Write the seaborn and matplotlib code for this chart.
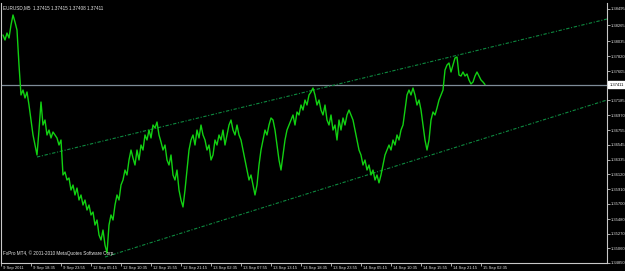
import numpy as np
import pandas as pd
import matplotlib
matplotlib.use("Agg")
import matplotlib.pyplot as plt
import matplotlib.transforms as mtransforms
import seaborn as sns

# ---------------- data ----------------
symbol_text = "EURUSD,M5  1.37415 1.37415 1.37408 1.37411"
footer_text = "FxPro MT4, \u00a9 2001-2010 MetaQuotes Software Corp."

# close prices, one sample every ~4.3 M5 bars
prices = [
    1.38122, 1.38050, 1.38150, 1.38079, 1.38265, 1.38409, 1.38308, 1.38193, 1.37691, 1.37261,
    1.37332, 1.37218, 1.37304, 1.37117, 1.36902, 1.36687, 1.36543, 1.36400, 1.36758, 1.37160,
    1.36830, 1.36902, 1.36687, 1.36758, 1.36644, 1.36730, 1.36687, 1.36644, 1.36543, 1.36615,
    1.36113, 1.36156, 1.36041, 1.36070, 1.35897, 1.35969, 1.35826, 1.35926, 1.35754, 1.35826,
    1.35682, 1.35754, 1.35610, 1.35682, 1.35539, 1.35582, 1.35395, 1.35467, 1.35252, 1.35180,
    1.35323, 1.35108, 1.34993, 1.35395, 1.35539,
    1.35467, 1.35682, 1.35826, 1.35754, 1.35969, 1.36041, 1.36184, 1.36113, 1.36328, 1.36471,
    1.36357, 1.36256, 1.36471, 1.36328, 1.36543, 1.36471, 1.36687, 1.36615, 1.36758, 1.36644,
    1.36830, 1.36787, 1.36873, 1.36687, 1.36586, 1.36471, 1.36543, 1.36328, 1.36256, 1.36400,
    1.36113, 1.36041, 1.36184, 1.35897, 1.35754, 1.35654, 1.35897, 1.36184, 1.36471, 1.36615,
    1.36687, 1.36543, 1.36758, 1.36644, 1.36830, 1.36687, 1.36615, 1.36471, 1.36543, 1.36328,
    1.36400, 1.36615, 1.36543, 1.36687, 1.36615, 1.36758, 1.36543, 1.36687, 1.36830, 1.36902,
    1.36758, 1.36687, 1.36830, 1.36687, 1.36615, 1.36471, 1.36328, 1.36184, 1.36041, 1.36113,
    1.35969, 1.35826, 1.35969, 1.36256, 1.36471, 1.36615, 1.36758, 1.36687, 1.36830, 1.36931,
    1.36902, 1.36758, 1.36543, 1.36328, 1.36184, 1.36400, 1.36615, 1.36758, 1.36830, 1.36902,
    1.36974, 1.36830, 1.37017, 1.36974, 1.37117, 1.37045, 1.37189, 1.37117, 1.37261, 1.37304,
    1.37361, 1.37261, 1.37117, 1.37189, 1.37045, 1.36974, 1.37117, 1.36902, 1.36830, 1.36974,
    1.36758, 1.36830, 1.36615, 1.36902, 1.36758, 1.36931, 1.36830, 1.36974, 1.37045, 1.36974,
    1.36902, 1.36758, 1.36615, 1.36471, 1.36400, 1.36256, 1.36328, 1.36184, 1.36256, 1.36113,
    1.36184, 1.36041, 1.36113, 1.36000, 1.36113, 1.36256, 1.36400, 1.36471, 1.36543, 1.36471,
    1.36615, 1.36543, 1.36687, 1.36615, 1.36758, 1.36830, 1.37045, 1.37261, 1.37332, 1.37261,
    1.37361, 1.37261, 1.37117, 1.37189, 1.37045, 1.36830, 1.36615, 1.36471, 1.36615, 1.36902,
    1.37017, 1.36974, 1.37074, 1.37189, 1.37261, 1.37332, 1.37619, 1.37691, 1.37720, 1.37591,
    1.37691, 1.37792, 1.37806, 1.37548, 1.37533, 1.37591, 1.37533, 1.37562, 1.37476, 1.37419,
    1.37447, 1.37533, 1.37591, 1.37533, 1.37476, 1.37447, 1.37411,
]

# trend channel anchors (sample index, price)
upper_idx = [17, 302]
upper_price = [1.36371, 1.38351]
lower_idx = [51, 302]
lower_price = [1.34936, 1.37189]

current_price = 1.37411

time_labels = ["9 Sep 2011", "9 Sep 18:35", "9 Sep 23:55", "12 Sep 05:15", "12 Sep 10:35",
               "12 Sep 15:55", "12 Sep 21:15", "13 Sep 02:35", "13 Sep 07:55", "13 Sep 13:15",
               "13 Sep 18:35", "13 Sep 23:55", "14 Sep 05:15", "14 Sep 10:35", "14 Sep 15:55",
               "14 Sep 21:15", "15 Sep 02:35"]
time_ticks = [-1, 14, 29, 44, 59, 74, 89, 104, 119, 134, 149, 164, 179, 194, 209, 224, 239]

price_ticks = [1.34850, 1.35060, 1.35270, 1.35480, 1.35700, 1.35910, 1.36120, 1.36335,
               1.36545, 1.36755, 1.36970, 1.37185, 1.37605, 1.37820, 1.38035, 1.38265, 1.38495]
price_labels = ["%.5f" % v for v in price_ticks]

# ---------------- drawing ----------------
sns.set_style("dark")
plt.rcParams["font.family"] = ["Liberation Sans", "DejaVu Sans"]

fig = plt.figure(figsize=(6.25, 2.71), dpi=100)
fig.patch.set_facecolor("black")
ax = fig.add_axes([1 / 625, 8 / 271, 606 / 625, 260 / 271])
ax.set_facecolor("black")

df = pd.DataFrame({"idx": np.arange(len(prices)), "price": prices})

ax.axhline(current_price, color="#7f8c98", lw=0.9, zorder=1)
sns.lineplot(data=df, x="idx", y="price", ax=ax, color="#12d012", lw=1.0, zorder=3)
chan_style = (0, (3, 1.5, 1, 1.5))
sns.lineplot(x=upper_idx, y=upper_price, ax=ax, color="#0e8a40", lw=0.8,
             linestyle=chan_style, zorder=2)
sns.lineplot(x=lower_idx, y=lower_price, ax=ax, color="#0e8a40", lw=0.8,
             linestyle=chan_style, zorder=2)

ax.set_xlim(-1, 302)
ax.set_ylim(1.34850, 1.38581)
ax.set_xlabel("")
ax.set_ylabel("")
ax.grid(False)

for side in ["left", "right", "bottom"]:
    ax.spines[side].set_visible(True)
    ax.spines[side].set_color("#c8c8c8")
    ax.spines[side].set_linewidth(0.8)
ax.spines["top"].set_visible(False)

ax.set_xticks(time_ticks)
ax.set_xticklabels(time_labels)
ax.yaxis.tick_right()
ax.set_yticks(price_ticks)
ax.set_yticklabels(price_labels)
ax.tick_params(axis="y", colors="#c8c8c8", labelcolor="#e0e0e0", labelsize=3.0,
               length=2.2, width=0.6, direction="out", pad=0.8, right=True, left=False)
ax.tick_params(axis="x", colors="#c8c8c8", labelcolor="#e0e0e0", labelsize=3.0,
               length=2.0, width=0.6, direction="out", pad=0.2, bottom=True)
offset = mtransforms.ScaledTranslation(2 / 100, 0, fig.dpi_scale_trans)
for lab in ax.get_xticklabels():
    lab.set_horizontalalignment("left")
    lab.set_transform(lab.get_transform() + offset)

# current price box
trans = mtransforms.blended_transform_factory(ax.transAxes, ax.transData)
ax.text(1.004, current_price, "1.37411", transform=trans, fontsize=3.0, color="black",
        va="center", ha="left",
        bbox=dict(boxstyle="square,pad=0.25", fc="white", ec="white"), zorder=5)

ax.text(0.004, 0.993, symbol_text, transform=ax.transAxes, fontsize=3.3, color="#e8e8e8",
        va="top", ha="left")
ax.text(0.004, 0.025, footer_text, transform=ax.transAxes, fontsize=3.3, color="#e8e8e8",
        va="bottom", ha="left")

fig.savefig("out.png", dpi=100, facecolor="black")
